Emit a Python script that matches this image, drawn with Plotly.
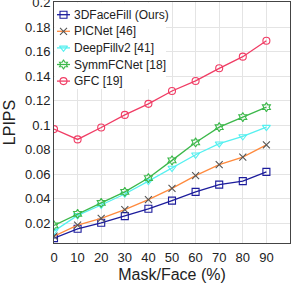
import plotly.graph_objects as go

mask = [0, 10, 20, 30, 40, 50, 60, 70, 80, 90]
ours = [0.008, 0.0156, 0.0205, 0.0259, 0.0319, 0.0386, 0.0457, 0.0516, 0.0545, 0.062]
picnet = [0.0096, 0.0185, 0.024, 0.0313, 0.0394, 0.0486, 0.059, 0.0679, 0.074, 0.0841]
deepfill = [0.0137, 0.0265, 0.035, 0.044, 0.0545, 0.0652, 0.076, 0.085, 0.0909, 0.0985]
symmfc = [0.0183, 0.0278, 0.0367, 0.0457, 0.057, 0.0714, 0.086, 0.0985, 0.1067, 0.1148]
gfc = [0.0969, 0.0885, 0.0982, 0.1085, 0.1175, 0.128, 0.1362, 0.1465, 0.156, 0.169]
names = ["3DFaceFill (Ours)", "PICNet [46]", "DeepFillv2 [41]", "SymmFCNet [18]", "GFC [19]"]
xticks = [0, 10, 20, 30, 40, 50, 60, 70, 80, 90]
yticks = [0.02, 0.04, 0.06, 0.08, 0.1, 0.12, 0.14, 0.16, 0.18, 0.2]

series = [ours, picnet, deepfill, symmfc, gfc]
colors = ["#1c1c9c", "#ff8a3d", "#55f0f0", "#3cb84a", "#f03c64"]
mcolors = ["#1c1c9c", "#555555", "#55f0f0", "#3cb84a", "#f03c64"]
symbols = ["square-open", "x-thin-open", "triangle-down-open", "hexagram-open", "circle-open"]

W, H = 293, 283
ML, MR, MT, MB = 54, 3, 2, 40
PW, PH = W - ML - MR, H - MT - MB

fig = go.Figure()
for ys, nm, c, mc, s in zip(series, names, colors, mcolors, symbols):
    fig.add_trace(go.Scatter(
        x=mask, y=ys, name=nm, mode="lines+markers", showlegend=False,
        line=dict(color=c, width=1.3),
        marker=dict(symbol=s, size=7, color=mc, line=dict(color=mc, width=1.1)),
    ))

# custom compact legend drawn on an overlay pixel-scaled axis pair
LEG_W, LEG_H = 112, 87
ITEM_Y0, ITEM_DY = 12.7, 16.6
SYM_X0, SYM_X1, TXT_X = 3, 16, 17.5
fig.add_trace(go.Scatter(
    x=[0.5, LEG_W, LEG_W, 0.5, 0.5], y=[0.5, 0.5, LEG_H, LEG_H, 0.5],
    xaxis="x2", yaxis="y2", mode="lines", fill="toself", fillcolor="white",
    line=dict(width=0, color="white"), showlegend=False, hoverinfo="skip",
))
for i, (nm, c, mc, s) in enumerate(zip(names, colors, mcolors, symbols)):
    yy = ITEM_Y0 + i * ITEM_DY
    fig.add_trace(go.Scatter(
        x=[SYM_X0, (SYM_X0 + SYM_X1) / 2, SYM_X1], y=[yy, yy, yy],
        xaxis="x2", yaxis="y2", mode="lines", showlegend=False, hoverinfo="skip",
        line=dict(color=c, width=1.3),
    ))
    fig.add_trace(go.Scatter(
        x=[(SYM_X0 + SYM_X1) / 2], y=[yy], xaxis="x2", yaxis="y2", mode="markers",
        showlegend=False, hoverinfo="skip",
        marker=dict(symbol=s, size=7, color=mc, line=dict(color=mc, width=1.1)),
    ))
    fig.add_annotation(x=TXT_X, y=yy, xref="x2", yref="y2", text=nm, showarrow=False,
                       xanchor="left", yanchor="middle", font=dict(size=12, color="#222"))

font = "Liberation Sans, Arial, sans-serif"
fig.update_layout(
    width=W, height=H,
    margin=dict(l=ML, r=MR, t=MT, b=MB),
    paper_bgcolor="white", plot_bgcolor="white",
    font=dict(family=font, size=13, color="#222"),
    showlegend=False,
    xaxis=dict(range=[0, 100], tickvals=xticks, showgrid=True, gridcolor="#e4e4e4",
               showline=True, mirror=True, linecolor="#444", linewidth=1, zeroline=False,
               ticks="", automargin=False, ticklabelstandoff=2,
               title=dict(text="Mask/Face (%)", font=dict(size=16), standoff=5),
               tickfont=dict(size=13)),
    yaxis=dict(range=[0.004, 0.2006], tickvals=yticks, showgrid=True, gridcolor="#e4e4e4",
               showline=True, mirror=True, linecolor="#444", linewidth=1, zeroline=False,
               ticks="", automargin=False, ticklabeloverflow="allow",
               title=dict(text="LPIPS", font=dict(size=16), standoff=5),
               tickfont=dict(size=13)),
    xaxis2=dict(range=[0, PW], overlaying="x", visible=False, fixedrange=True),
    yaxis2=dict(range=[PH, 0], overlaying="y", visible=False, fixedrange=True),
)
fig.write_html("out.html", config={"displayModeBar": False},
               post_script="document.body.style.margin='0';")
